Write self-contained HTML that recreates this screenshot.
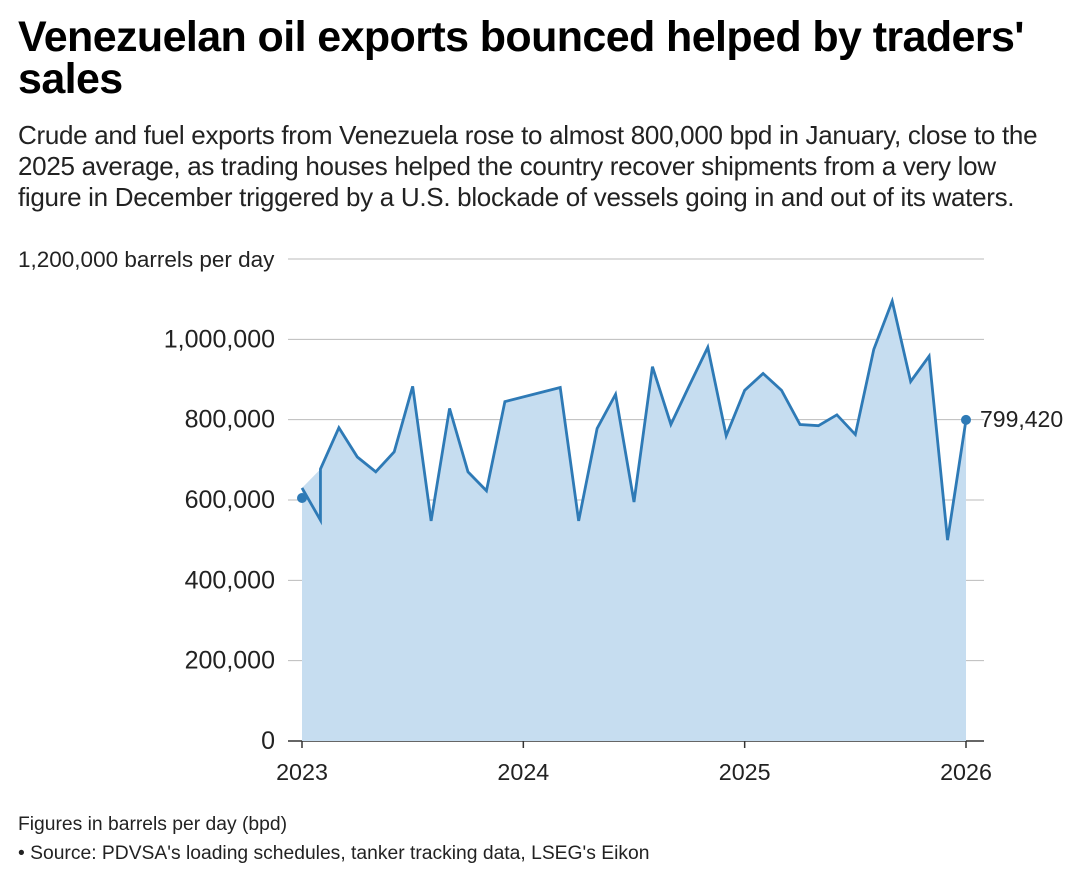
<!DOCTYPE html>
<html><head><meta charset="utf-8"><style>
body{margin:0;width:1080px;height:884px;background:#fff;font-family:"Liberation Sans",Arial,sans-serif;color:#000;overflow:hidden}
h1{position:absolute;left:18px;top:16px;margin:0;font-size:43px;line-height:42px;font-weight:bold;letter-spacing:-0.6px;white-space:nowrap}
.sub{position:absolute;left:18px;top:120px;margin:0;font-size:26px;line-height:31px;color:#222;white-space:nowrap;letter-spacing:-0.3px}
.foot{position:absolute;left:18px;font-size:19.3px;color:#222;white-space:nowrap}
svg{position:absolute;left:0;top:0}
</style></head><body>
<h1>Venezuelan oil exports bounced helped by traders'<br>sales</h1>
<p class="sub">Crude and fuel exports from Venezuela rose to almost 800,000 bpd in January, close to the<br>2025 average, as trading houses helped the country recover shipments from a very low<br>figure in December triggered by a U.S. blockade of vessels going in and out of its waters.</p>
<svg id="chart" width="1080" height="884"></svg>
<div class="foot" style="top:814px">Figures in barrels per day (bpd)</div>
<div class="foot" style="top:843px">• Source: PDVSA's loading schedules, tanker tracking data, LSEG's Eikon</div>
<script>
const months=[0,1,1,2,3,4,5,6,7,8,9,10,11,14,15,16,17,18,19,20,21,22,23,24,25,26,27,28,29,30,31,32,33,34,35,36];
const values=[630000,550000,677000,780000,707000,670000,720000,883000,548000,828000,670000,623000,845000,880000,548000,778000,863000,595000,932000,788000,885000,980000,760000,873000,915000,873000,788000,785000,812000,763000,975000,1095000,895000,958000,500000,799420];
const startValue=605000;
const yTicks=[0,200000,400000,600000,800000,1000000,1200000];
const yTickLabels=["0","200,000","400,000","600,000","800,000","1,000,000","1,200,000 barrels per day"];
const xTicks=[0,12,24,36];
const xTickLabels=["2023","2024","2025","2026"];
const lastLabel="799,420";
const NS="http://www.w3.org/2000/svg",svg=document.getElementById('chart');
const x=m=>302+m*(966-302)/36, y=v=>741-v*(741-259)/1200000;
function el(t,a,p){const e=document.createElementNS(NS,t);for(const k in a)e.setAttribute(k,a[k]);(p||svg).appendChild(e);return e;}
const F='Liberation Sans, Arial, sans-serif';
yTicks.forEach((t,i)=>{
 const l=el('line',{x1:288,x2:984,y1:y(t),y2:y(t),stroke:t===0?'#333':'#bbb','stroke-width':t===0?1.5:1});
 
 
 const last=i===yTicks.length-1;
 const tx=el('text',{x:last?18:275,y:y(t)+8,'text-anchor':last?'start':'end','font-size':last?22.5:25,fill:'#222','font-family':F});
 tx.textContent=yTickLabels[i];
 
 
});
xTicks.forEach((t,i)=>{
 const tk=el('line',{x1:x(t),x2:x(t),y1:741,y2:748,stroke:'#333','stroke-width':1.5});
 
 
 const tx=el('text',{x:x(t),y:780,'text-anchor':'middle','font-size':23.3,fill:'#222','font-family':F});
 tx.textContent=xTickLabels[i];
 
 
});
let area=`M${x(0)},${y(0)} L${x(0)},${y(startValue)} `;
values.forEach((v,i)=>{if(i!==1)area+=`L${x(months[i])},${y(v)} `;});
area+=`L${x(months[months.length-1])},${y(0)} Z`;
const a=el('path',{d:area,fill:'#c6ddf0'});


const line=el('path',{d:values.map((v,i)=>(i?'L':'M')+x(months[i])+','+y(v)).join(' '),fill:'none',stroke:'#2e7ab6','stroke-width':2.8});


const d1=el('circle',{cx:x(0),cy:y(startValue),r:5,fill:'#2e7ab6'});


const n=values.length-1;
const d2=el('circle',{cx:x(months[n]),cy:y(values[n]),r:5,fill:'#2e7ab6'});


const lb=el('text',{x:x(months[n])+14,y:y(values[n])+7,'font-size':23,fill:'#222','font-family':F});
lb.textContent=lastLabel;


</script>
</body></html>
